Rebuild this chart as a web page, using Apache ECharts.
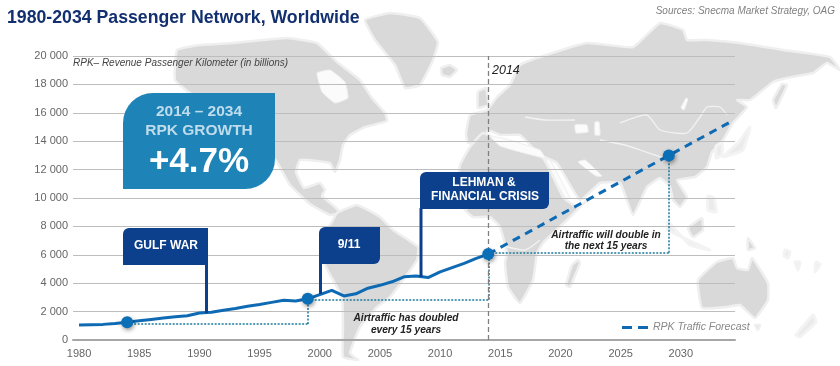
<!DOCTYPE html>
<html><head><meta charset="utf-8">
<style>html,body{margin:0;padding:0;background:#fff}#c{width:840px;height:366px}</style>
<script src="https://cdn.jsdelivr.net/npm/echarts@6/dist/echarts.min.js"></script>
</head><body><div id="c"></div>
<script>
const years = [];
for (let y = 1980; y <= 2034; y++) years.push(String(y));
const historyYears = ['1980','1981','1982','1983','1984','1985','1986','1987','1988','1989','1990','1991','1992','1993','1994','1995','1996','1997','1998','1999','2000','2001','2002','2003','2004','2005','2006','2007','2008','2009','2010','2011','2012','2013','2014'];
const historyValues = [1050,1080,1100,1170,1250,1350,1450,1550,1630,1710,1900,1950,2100,2220,2370,2500,2650,2800,2750,2900,3200,3500,3100,3250,3650,3850,4100,4450,4500,4400,4800,5100,5400,5750,6050];
const forecastYears = ['2014','2029','2034'];
const forecastValues = [6050,13000,15300];
const markerYears = ['1984','1999','2014','2029'];
const markerValues = [1250,2900,6050,13000];
const doublingGuides = [
  [['1984',1130],['1999',1130]], [['1999',1130],['1999',2860]],
  [['1999',2860],['2014',2860]], [['2014',2860],['2014',6050]],
  [['2014',6150],['2029',6150]], [['2029',6150],['2029',13000]]
];
const forecastName = 'RPK Traffic Forecast';

const land = [
 // North America
 [[177,50],[200,45],[233,43],[263,40],[287,38],[317,43],[337,62],[350,72],[360,80],[372,98],[385,113],[387,121],[365,127],[350,135],[343,145],[340,160],[335,172],[330,163],[300,160],[296,172],[304,188],[320,183],[325,190],[322,196],[335,207],[340,213],[330,215],[310,204],[290,185],[277,162],[255,135],[225,110],[190,93],[175,80]],
 // Greenland
 [[365,20],[390,13],[420,18],[438,42],[433,60],[420,85],[405,88],[395,65],[375,40]],
 // Iceland
 [[441,68],[450,65],[457,70],[450,77],[442,75]],
 // UK
 [[478,92],[486,88],[488,105],[478,108]],
 // South America
 [[337,213],[357,205],[380,217],[393,230],[418,247],[417,260],[403,280],[390,297],[377,307],[360,327],[350,353],[358,360],[343,357],[343,327],[342,297],[325,265],[322,240],[333,220]],
 // Eurasia
 [[466,134],[470,115],[487,110],[497,97],[510,85],[520,65],[540,57],[587,43],[633,47],[660,23],[683,30],[687,40],[707,40],[740,43],[783,50],[830,57],[840,70],[827,63],[813,73],[787,78],[773,82],[750,100],[737,100],[747,107],[733,123],[723,140],[712,152],[707,167],[695,177],[677,180],[687,197],[680,207],[673,200],[670,187],[660,178],[647,187],[633,215],[620,183],[600,183],[580,200],[557,163],[540,155],[520,135],[500,135],[488,130],[482,143],[468,143]],
 // Africa
 [[470,147],[483,133],[510,146],[543,158],[563,197],[578,208],[587,200],[567,220],[553,233],[543,243],[537,253],[533,280],[520,303],[508,287],[505,263],[507,253],[500,227],[490,217],[473,217],[465,210],[458,185],[460,165]],
 // Madagascar
 [[578,260],[580,263],[570,287],[566,285],[572,265]],
 // Borneo
 [[702,218],[703,230],[693,237],[688,228]],
 // New Guinea
 [[748,238],[755,248],[748,250]],
 // Sakhalin
 [[782,84],[787,85],[776,108],[773,100]],
 // Australia
 [[698,280],[717,262],[733,258],[737,268],[748,270],[752,258],[768,283],[768,300],[755,318],[740,305],[727,307],[702,308]],
 // Tasmania
 [[755,325],[760,325],[758,330]]
];
const faintLand = [
 // Sumatra / Java
 [[668,222],[690,245],[710,250],[688,240],[668,230]],
 // Japan / Korea
 [[750,127],[743,150],[723,157],[738,143]],
 [[716,146],[722,143],[722,155],[716,158]],
 // Philippines, Pacific islands
 [[708,196],[714,198],[716,212],[708,210]],
 [[785,250],[790,252],[788,258],[784,256]],
 [[795,262],[800,262],[798,270]],
 [[816,262],[820,264],[815,272]],
 // New Zealand
 [[813,315],[816,322],[800,337],[796,335]]
];
const water = [
 [[317,73],[330,70],[345,82],[348,98],[335,103],[322,92]],
 [[490,136],[510,140],[540,150],[545,158],[520,152],[500,146]],
 [[546,160],[550,160],[570,198],[565,198]],
 [[575,125],[587,125],[588,132],[576,133]],
 [[595,122],[599,122],[600,135],[595,135]],
 [[578,162],[585,160],[602,176],[596,176]],
 [[681,108],[686,98],[688,99],[684,110]]
];
const borders = [
 [[620,123],[647,115],[660,130],[687,133],[700,117],[707,107],[720,107],[727,115]],
 [[525,117],[545,120],[575,120]],
 [[600,140],[625,145],[640,150],[670,160]],
 [[465,210],[490,200],[510,185],[540,190]],
 [[500,245],[525,250],[540,240]]
];
function poly(points, fill, stroke, lw, z){
  return {type:'polygon', silent:true, z:z, shape:{points:points, smooth:0.12}, style:{fill:fill, stroke:stroke, lineWidth:lw}};
}
function wire(points){
  return {type:'polyline', silent:true, z:-8, shape:{points:points, smooth:0.2}, style:{stroke:'#f2f2f2', fill:null, lineWidth:1.3}};
}
function box(x,y,w,h,r,fill){
  return {type:'rect', silent:true, z:20, shape:{x:x,y:y,width:w,height:h,r:r}, style:{fill:fill}};
}
function pole(x,y1,y2){
  return {type:'line', silent:true, z:20, shape:{x1:x,y1:y1,x2:x,y2:y2}, style:{stroke:'#0c3f8c', lineWidth:3}};
}
function label(t,x,y,font,fill,align){
  return {type:'text', silent:true, z:25, x:x, y:y, style:{text:t, font:font, fill:fill, align:align||'center', verticalAlign:'middle'}};
}
const FONT = '"Liberation Sans", Arial, sans-serif';
const navy = '#0c3f8c';
const graphics = []
  .concat(land.map(p => poly(p,'#d9d9d9','#efefef',2.5,-10)))
  .concat(faintLand.map(p => poly(p,'#ebebeb','#f3f3f3',3,-10)))
  .concat(water.map(p => poly(p,'#fbfbfb','#f0f0f0',1,-9)))
  .concat(borders.map(wire))
  .concat([
    box(123,93,152,96,[30,0,30,0],'#1e84b8'),
    label('2014 – 2034',199,112,'bold 15.5px '+FONT,'#bfdcec'),
    label('RPK GROWTH',199,131,'bold 15.5px '+FONT,'#bfdcec'),
    label('+4.7%',199,162,'bold 35px '+FONT,'#ffffff'),
    pole(206.5,264,313),
    box(123,228,85,37,[6,0,0,0],navy),
    label('GULF WAR',166,246,'bold 12px '+FONT,'#ffffff'),
    pole(320.5,263,294),
    box(319,227,61,37,[6,0,6,0],navy),
    label('9/11',349,245,'bold 12px '+FONT,'#ffffff'),
    pole(421,208,277),
    box(420,172,129,37,[6,0,6,0],navy),
    label('LEHMAN &',484,183,'bold 12px '+FONT,'#ffffff'),
    label('FINANCIAL CRISIS',485,197,'bold 12px '+FONT,'#ffffff'),
    label('RPK– Revenue Passenger Kilometer (in billions)',73,63.5,'italic 10px '+FONT,'#444444','left'),
    label('2014',492,71,'italic 12.5px '+FONT,'#222222','left'),
    label('Airtraffic has doubled',406,318,'italic bold 10.2px '+FONT,'#222222'),
    label('every 15 years',406,330,'italic bold 10.2px '+FONT,'#222222'),
    label('Airtraffic will double in',606,235,'italic bold 10.2px '+FONT,'#222222'),
    label('the next 15 years',606,246,'italic bold 10.2px '+FONT,'#222222')
  ]);

const chart = echarts.init(document.getElementById('c'), null, {renderer:'canvas'});
chart.setOption({
  animation:false,
  backgroundColor:'#ffffff',
  title:[
    {text:'1980-2034 Passenger Network, Worldwide', left:7, top:9, padding:0, textStyle:{fontFamily:FONT,fontWeight:'bold',fontSize:17.7,color:'#12306f'}},
    {text:'Sources: Snecma Market Strategy, OAG', right:5, top:6, padding:0, textStyle:{fontFamily:FONT,fontWeight:'normal',fontStyle:'italic',fontSize:10,color:'#808080'}}
  ],
  legend:{
    data:[{name:forecastName, icon:'path://M0 0H10V3H0Z M16 0H26V3H16Z', itemStyle:{color:'#0f6ab4'}, lineStyle:{opacity:0}}],
    left:622, top:322, padding:0, itemWidth:26, itemHeight:3, itemGap:3,
    textStyle:{fontFamily:FONT,fontStyle:'italic',fontSize:10.5,color:'#888888'}
  },
  grid:{left:73,right:105,top:56,bottom:26,containLabel:false},
  xAxis:{
    type:'category', data:years, boundaryGap:true,
    axisTick:{show:false},
    axisLine:{lineStyle:{color:'#a6a6a6',width:2}},
    axisLabel:{interval:4,margin:8,color:'#666666',fontFamily:FONT,fontSize:11},
    splitLine:{show:false}
  },
  yAxis:{
    type:'value', min:0, max:20000, interval:2000,
    axisLine:{show:false}, axisTick:{show:false},
    axisLabel:{margin:5,color:'#666666',fontFamily:FONT,fontSize:11,
      formatter:v => String(v).replace(/\B(?=(\d{3})+$)/g,' ')},
    splitLine:{lineStyle:{color:'#bdbdbd',width:1.2}}
  },
  series:[
    {name:'History', type:'line', data:historyYears.map((y,i)=>[y,historyValues[i]]), symbol:'none', z:5,
     lineStyle:{color:'#0f6ab4',width:3},
     markLine:{silent:true,symbol:'none',label:{show:false},animation:false,z:3,
       lineStyle:{color:'#1b7a9c',type:[2,1.5],width:1.5},
       data:doublingGuides.map(s=>[{coord:s[0]},{coord:s[1]}])}
    },
    {name:forecastName, type:'line', data:forecastYears.map((y,i)=>[y,forecastValues[i]]), symbol:'none', z:5,
     itemStyle:{color:'#0f6ab4'},
     lineStyle:{color:'#0f6ab4',width:3,type:[8,6]},
     markLine:{silent:true,symbol:'none',label:{show:false},animation:false,z:3,
       lineStyle:{color:'#808080',type:[5,3],width:1.3},
       data:[{xAxis:'2014'}]}
    },
    {name:'Milestones', type:'scatter', data:markerYears.map((y,i)=>[y,markerValues[i]]), symbolSize:12, z:8,
     itemStyle:{color:'#0b6fb8',opacity:1,shadowColor:'rgba(0,0,0,0.4)',shadowBlur:4,shadowOffsetX:1,shadowOffsetY:2}}
  ],
  graphic:graphics
});
</script></body></html>
